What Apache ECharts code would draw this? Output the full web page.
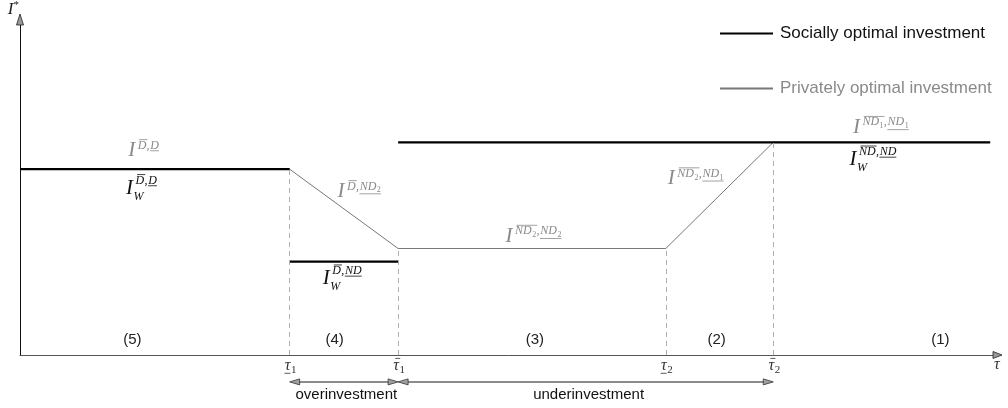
<!DOCTYPE html>
<html>
<head>
<meta charset="utf-8">
<script src="https://cdn.jsdelivr.net/npm/echarts@6/dist/echarts.min.js"></script>
<style>
html,body{margin:0;padding:0;background:#fff;}
#chart{width:1008px;height:408px;}
</style>
</head>
<body>
<div id="chart"></div>
<script>
// ---------- data ----------
// thresholds on the tau axis
const tauValues = [27.6, 38.7, 66.1, 77.1];
const tauMarks  = ['under', 'over', 'under', 'over'];
const tauSubs   = ['1', '1', '2', '2'];
const tauLabelY = -3.3;
const tauEnd = 99.3;

// investment levels
const levelD     = 55.3;   // I^{D,D}  (both)
const levelWND   = 27.8;   // I_W^{D,ND}
const levelND2   = 31.7;   // I^{ND2,ND2}
const levelTop   = 63.3;   // I^{ND1,ND1} / I_W^{ND,ND}

// socially optimal investment (breaks marked with '-')
const socialX = [0, tauValues[0], '-', tauValues[0], tauValues[1], '-', tauValues[1], tauEnd];
const socialY = [levelD, levelD, '-', levelWND, levelWND, '-', levelTop, levelTop];
// privately optimal investment
const privateX = [0, tauValues[0], tauValues[1], tauValues[2], tauValues[3], tauEnd];
const privateY = [levelD, levelD, levelND2, levelND2, levelTop, levelTop];

// dashed guide heights at each threshold
const guideTop = [levelD, levelND2, levelND2, levelTop];

// curve annotations  I^{over, under}  (social ones carry subscript W)
const annX     = [11.07, 10.86, 32.5, 31.0, 49.7, 66.3, 85.25, 84.9];
const annY     = [60.9, 49.6, 48.7, 22.7, 35.4, 52.5, 67.8, 58.1];
const annKind  = ['private', 'social', 'private', 'social', 'private', 'private', 'private', 'social'];
const annOver  = ['D', 'D', 'D', 'D', 'ND_2', 'ND_2', 'ND_1', 'ND'];
const annUnder = ['D', 'D', 'ND_2', 'ND', 'ND_2', 'ND_1', 'ND_1', 'ND'];

// region labels
const regionNames = ['(5)', '(4)', '(3)', '(2)', '(1)'];
const regionX = [11.5, 32.2, 52.7, 71.3, 94.2];
const regionY = 4.4;

// investment ranges
const rangeNames = ['overinvestment', 'underinvestment'];
const rangeFrom  = [tauValues[0], tauValues[1]];
const rangeTo    = [tauValues[1], tauValues[3]];
const rangeArrowY = -8.0;
const rangeTextX = [33.4, 58.2];
const rangeTextY = -11.8;

const legendNames = ['Socially optimal investment', 'Privately optimal investment'];

// ---------- helpers ----------
const MATH = '"Liberation Serif", "DejaVu Serif", serif';
const SANS = '"Liberation Sans", Arial, sans-serif';
const GRAY = '#8a8a8a';

const mctx = document.createElement('canvas').getContext('2d');
function tw(text, font) { mctx.font = font; return mctx.measureText(text).width; }

function parseSym(s) {
  const k = s.indexOf('_');
  return k < 0 ? {l: s, sub: ''} : {l: s.slice(0, k), sub: s.slice(k + 1)};
}

// draws letters (+ optional subscript digit) with an over/under bar; returns width
function decoGroup(children, x, yc, sym, deco, size, color) {
  const fL = 'italic ' + size + 'px ' + MATH;
  const subSize = Math.round(size * 0.7);
  const fS = subSize + 'px ' + MATH;
  const p = parseSym(sym);
  const wl = tw(p.l, fL);
  children.push({type: 'text', x: x, y: yc, style: {text: p.l, fill: color, font: fL, align: 'left', verticalAlign: 'middle'}});
  let w = wl;
  if (p.sub) {
    children.push({type: 'text', x: x + wl + 0.5, y: yc + size * 0.32, style: {text: p.sub, fill: color, font: fS, align: 'left', verticalAlign: 'middle'}});
    w += tw(p.sub, fS) + 0.5;
  }
  if (deco === 'over') {
    const yy = yc - size * 0.48;
    children.push({type: 'line', shape: {x1: x + size * 0.12, y1: yy, x2: x + w + size * 0.08, y2: yy}, style: {stroke: color, lineWidth: 0.8}});
  } else if (deco === 'under') {
    const yy = yc + size * (p.sub ? 0.62 : 0.45);
    children.push({type: 'line', shape: {x1: x - size * 0.02, y1: yy, x2: x + w, y2: yy}, style: {stroke: color, lineWidth: 0.8}});
  }
  return w;
}

// ---------- chart ----------
const chart = echarts.init(document.getElementById('chart'), null, {renderer: 'canvas'});
function zipXY(xs, ys) { return xs.map((x, i) => [x, ys[i]]); }

const option = {
  animation: false,
  backgroundColor: '#fff',
  grid: {left: 20, right: 11, top: 17, bottom: 53, containLabel: false},
  legend: {
    orient: 'vertical', left: 719, top: 25, padding: 0,
    itemWidth: 53, itemHeight: 14, itemGap: 38,
    itemStyle: {opacity: 0},
    textStyle: {fontFamily: SANS, fontSize: 17, color: '#111', padding: [0, 0, 0, 2]},
    data: [
      {name: legendNames[0]},
      {name: legendNames[1], textStyle: {color: GRAY}}
    ]
  },
  xAxis: {
    type: 'value', min: 0, max: 100,
    name: 'τ', nameLocation: 'end', nameGap: -3,
    nameTextStyle: {fontFamily: MATH, fontStyle: 'italic', fontSize: 16, color: '#333',
      align: 'left', verticalAlign: 'top', padding: [2, 0, 0, 0]},
    axisLine: {show: true, onZero: true, lineStyle: {color: '#555', width: 1}},
    axisTick: {show: false},
    splitLine: {show: false},
    axisLabel: {show: false}
  },
  yAxis: {
    type: 'value', min: 0, max: 100,
    name: '{i|I}{s|*}', nameLocation: 'end', nameGap: 1,
    nameTextStyle: {align: 'right', verticalAlign: 'bottom', padding: [0, 1, 0, 0],
      rich: {
        i: {fontFamily: MATH, fontStyle: 'italic', fontSize: 17, color: '#222', verticalAlign: 'bottom', lineHeight: 18},
        s: {fontFamily: MATH, fontSize: 11, color: '#222', verticalAlign: 'top', lineHeight: 18}
      }},
    axisLine: {show: true, lineStyle: {color: '#111', width: 1}},
    axisTick: {show: false},
    axisLabel: {show: false},
    splitLine: {show: false}
  },
  series: [
    {
      name: legendNames[1], type: 'line', symbol: 'none', z: 2,
      lineStyle: {color: '#777', width: 1},
      itemStyle: {color: '#777'},
      data: zipXY(privateX, privateY),
      markLine: {
        silent: true, symbol: 'none', label: {show: false},
        lineStyle: {color: '#b0b0b0', type: [5, 4], width: 1},
        data: tauValues.map((t, i) => [{coord: [t, 0]}, {coord: [t, guideTop[i]]}])
      }
    },
    {
      name: legendNames[0], type: 'line', symbol: 'none', z: 3,
      connectNulls: false,
      lineStyle: {color: '#000', width: 2.2},
      itemStyle: {color: '#000'},
      data: zipXY(socialX, socialY)
    },
    {
      // tau threshold labels under the axis
      type: 'custom', z: 4, silent: true,
      data: tauValues.map(t => [t, tauLabelY]),
      renderItem: function (params, api) {
        const i = params.dataIndex;
        const p = api.coord([api.value(0), api.value(1)]);
        const size = 16;
        const ch = [];
        const wt = tw('τ', 'italic ' + size + 'px ' + MATH);
        const x0 = p[0] - wt / 2 - 2;
        const w = decoGroup(ch, x0, p[1], 'τ', tauMarks[i], size, '#333');
        ch.push({type: 'text', x: x0 + w + 0.5, y: p[1] + 4, style: {text: tauSubs[i], fill: '#333',
          font: '11px ' + MATH, align: 'left', verticalAlign: 'middle'}});
        return {type: 'group', children: ch};
      }
    },
    {
      // curve annotations
      type: 'custom', z: 4, silent: true,
      data: zipXY(annX, annY),
      renderItem: function (params, api) {
        const i = params.dataIndex;
        const p = api.coord([api.value(0), api.value(1)]);
        const social = annKind[i] === 'social';
        const color = social ? '#111' : GRAY;
        const ch = [
          {type: 'text', x: p[0], y: p[1], style: {text: 'I', fill: color,
            font: 'italic 21px ' + MATH, align: 'left', verticalAlign: 'middle'}}
        ];
        const size = 12;
        let x = p[0] + 9.5;
        const ys = p[1] + (social ? -8 : -5);
        x += decoGroup(ch, x, ys, annOver[i], 'over', size, color);
        ch.push({type: 'text', x: x + 0.3, y: ys, style: {text: ',', fill: color, font: size + 'px ' + MATH, align: 'left', verticalAlign: 'middle'}});
        x += tw(',', size + 'px ' + MATH) + 1;
        decoGroup(ch, x, ys, annUnder[i], 'under', size, color);
        if (social) {
          ch.push({type: 'text', x: p[0] + 7.5, y: p[1] + 8, style: {text: 'W', fill: color,
            font: 'italic 12px ' + MATH, align: 'left', verticalAlign: 'middle'}});
        }
        return {type: 'group', children: ch};
      }
    },
    {
      // region labels
      type: 'custom', z: 4, silent: true,
      data: regionX.map(x => [x, regionY]),
      renderItem: function (params, api) {
        const p = api.coord([api.value(0), api.value(1)]);
        return {type: 'text', x: p[0], y: p[1], style: {text: regionNames[params.dataIndex], fill: '#222',
          font: '15px ' + SANS, align: 'center', verticalAlign: 'middle'}};
      }
    },
    {
      // over / under investment ranges
      type: 'custom', z: 4, silent: true,
      data: rangeFrom.map((f, i) => [f, rangeTo[i], rangeTextX[i]]),
      renderItem: function (params, api) {
        const i = params.dataIndex;
        const a = api.coord([api.value(0), rangeArrowY]);
        const b = api.coord([api.value(1), rangeArrowY]);
        const t = api.coord([api.value(2), rangeTextY]);
        const L = 10, H = 3;
        const head = (tip, dir) => ({type: 'polygon', shape: {points: [
          [tip[0], tip[1]], [tip[0] - dir * L, tip[1] - H], [tip[0] - dir * L, tip[1] + H]]},
          style: {fill: '#a0a0a0', stroke: '#333', lineWidth: 0.8}});
        return {type: 'group', children: [
          {type: 'line', shape: {x1: a[0] + 4, y1: a[1], x2: b[0] - 4, y2: b[1]},
            style: {stroke: '#666', lineWidth: 1.5}},
          head(a, -1), head(b, 1),
          {type: 'text', x: t[0], y: t[1], style: {text: rangeNames[i], fill: '#111',
            font: '15px ' + SANS, align: 'center', verticalAlign: 'middle'}}
        ]};
      }
    },
    {
      // axis arrowheads
      type: 'custom', z: 5, silent: true,
      data: [[100, 0, 0], [0, 100, 1]],
      renderItem: function (params, api) {
        const p = api.coord([api.value(0), api.value(1)]);
        const pts = api.value(2) === 0
          ? [[p[0] + 5, p[1]], [p[0] - 4, p[1] - 3.5], [p[0] - 4, p[1] + 3.5]]
          : [[p[0], p[1] - 5], [p[0] - 3.5, p[1] + 6], [p[0] + 3.5, p[1] + 6]];
        return {type: 'polygon', shape: {points: pts},
          style: {fill: '#999', stroke: '#222', lineWidth: 0.8}};
      }
    }
  ]
};

chart.setOption(option);
</script>
</body>
</html>
